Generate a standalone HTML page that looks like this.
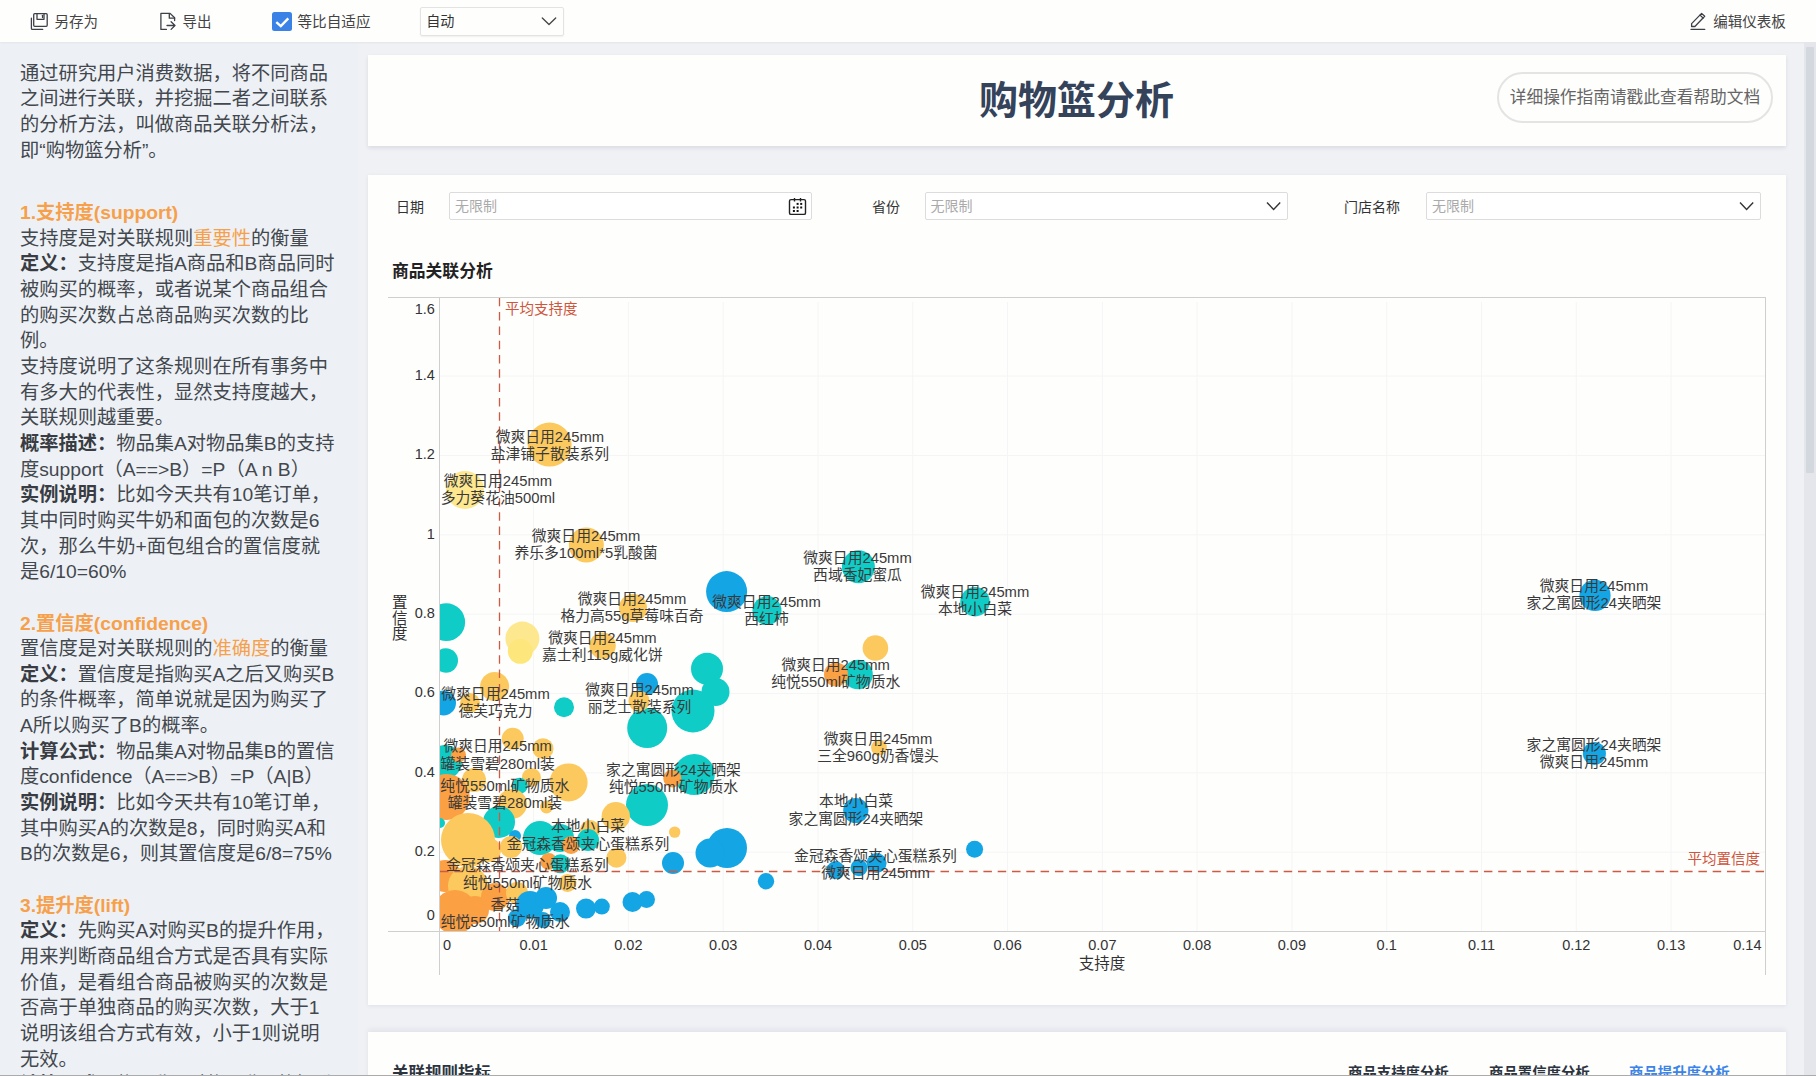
<!DOCTYPE html>
<html lang="zh-CN">
<head>
<meta charset="utf-8">
<title>购物篮分析</title>
<style>
*{box-sizing:border-box;margin:0;padding:0}
html,body{width:1816px;height:1076px;overflow:hidden}
body{background:#f0f1f5;font-family:"Liberation Sans","Noto Sans CJK SC",sans-serif;color:#333;position:relative}
.abs{position:absolute}
#toolbar{left:0;top:0;width:1816px;height:42px;background:#fefefd;box-shadow:0 1px 2px rgba(0,0,0,0.05)}
#leftbg{left:0;top:42px;width:358px;height:1034px;background:#edf1f5}
.tb{position:absolute;top:12px;font-size:14px;line-height:18px;color:#444;white-space:nowrap}
.tb svg{position:absolute}
#left{left:20px;top:0;width:330px;font-size:19.25px;line-height:25.66px;color:#43474e;white-space:nowrap}
#left .blk{position:absolute;left:0}
#left b{font-weight:bold;color:#393c42}
#left .h{color:#f7a04b;font-weight:bold}
#left .o{color:#f7a04b}
.card{position:absolute;background:#fefefd;left:367.5px;width:1418.5px;box-shadow:0 1px 4px rgba(40,40,70,0.08)}
#titlecard{top:55px;height:91px;box-shadow:0 2px 4px rgba(30,30,60,0.10)}
#title{position:absolute;left:0;width:100%;top:75.6px;text-align:center;font-size:39px;font-weight:bold;color:#34425a;line-height:50px}
#help{position:absolute;left:1497px;top:72px;width:276px;height:51px;border:2px solid #e4e4e4;border-radius:26px;font-size:16.7px;color:#666;line-height:47px;padding-left:10.8px;letter-spacing:0px;white-space:nowrap}
#chartcard{top:175px;height:830px}
.flabel{position:absolute;top:198px;font-size:14px;line-height:18px;color:#333}
.finput{position:absolute;top:192px;height:28px;border:1px solid #dcdcdc;border-radius:2px;background:#fff;font-size:14px;color:#aaa;line-height:26px;padding-left:5px}
#charttitle{position:absolute;left:392px;top:261.5px;font-size:16.8px;font-weight:bold;color:#222;line-height:20px}
#bottomcard{top:1032px;height:60px;box-shadow:0 -3px 5px rgba(30,30,60,0.06)}
#scroll{position:absolute;left:1804px;top:42px;width:12px;height:1034px;background:#e4e6ec}
#thumb{position:absolute;left:1805.5px;top:47px;width:8px;height:426px;background:#d3d7de;border-radius:1px}
#bline{position:absolute;left:0;top:1074.6px;width:1816px;height:1.4px;background:#ababab}
</style>
</head>
<body>
<div id="leftbg" class="abs"></div>
<div id="toolbar" class="abs"></div>
<svg class="abs" style="left:0;top:0" width="1816" height="42" viewBox="0 0 1816 42">
<g fill="none" stroke="#3d4047" stroke-width="1.3" stroke-linejoin="round" stroke-linecap="round">
<rect x="33.7" y="13.7" width="13.5" height="12.6" rx="1"/>
<path d="M37 13.9V19.3H44V13.9"/>
<path d="M42.5 15.3V17.6" stroke-width="1.2"/>
<path d="M31.4 18.2V28.4Q31.4 29.4 32.4 29.4H42.7"/>
<path d="M166.4 29.4H160.9V13.4H170.1L174.6 17.8V20.6"/>
<path d="M169.3 13.7V18.2H174.6"/>
<path d="M167 25.5H175M171.1 21.7L175 25.5L171.1 29.4"/>
<path d="M1691.6 26.5V23.6L1701.6 13.4L1704.7 16.3L1694.9 26.5Z"/>
<path d="M1700 15.1L1703.1 18"/>
<path d="M1691.1 29.4H1704.7" stroke-width="1.4"/>
<path d="M542.3 18L549 24.5L555.7 18" stroke="#444" stroke-width="1.3"/>
</g>
<rect x="272" y="12" width="20" height="19" rx="2.5" fill="#3a82e6"/>
<path d="M276.3 22.1L280.8 26.1L288.3 18.4" fill="none" stroke="#fff" stroke-width="2.4"/>
</svg>
<div class="abs" style="left:419.5px;top:6.5px;width:144px;height:29px;border:1px solid #e3e3e3;border-radius:2px;box-shadow:0 1px 2px rgba(0,0,0,0.06)"></div>
<div class="tb" style="left:426.2px;top:12.3px;color:#333;font-size:14.1px">自动</div>
<div class="tb" style="left:54.5px;top:12.5px;font-size:14.5px">另存为</div>
<div class="tb" style="left:182.5px;top:12.5px;font-size:14.5px">导出</div>
<div class="tb" style="left:297.5px;top:12.5px;font-size:14.6px">等比自适应</div>
<div class="tb" style="left:1713.2px;top:12.5px;font-size:14.5px">编辑仪表板</div>

<div id="left" class="abs">
<div class="blk" style="top:60.8px">通过研究用户消费数据，将不同商品<br>之间进行关联，并挖掘二者之间联系<br>的分析方法，叫做商品关联分析法，<br>即“购物篮分析”。</div>
<div class="blk" style="top:200px"><span class="h">1.支持度(support)</span><br>支持度是对关联规则<span class="o">重要性</span>的衡量<br><b>定义：</b>支持度是指A商品和B商品同时<br>被购买的概率，或者说某个商品组合<br>的购买次数占总商品购买次数的比<br>例。<br>支持度说明了这条规则在所有事务中<br>有多大的代表性，显然支持度越大，<br>关联规则越重要。<br><b>概率描述：</b>物品集A对物品集B的支持<br>度support（A==&gt;B）=P（A n B）<br><b>实例说明：</b>比如今天共有10笔订单，<br>其中同时购买牛奶和面包的次数是6<br>次，那么牛奶+面包组合的置信度就<br>是6/10=60%<br><br><span class="h">2.置信度(confidence)</span><br>置信度是对关联规则的<span class="o">准确度</span>的衡量<br><b>定义：</b>置信度是指购买A之后又购买B<br>的条件概率，简单说就是因为购买了<br>A所以购买了B的概率。<br><b>计算公式：</b>物品集A对物品集B的置信<br>度confidence（A==&gt;B）=P（A|B）<br><b>实例说明：</b>比如今天共有10笔订单，<br>其中购买A的次数是8，同时购买A和<br>B的次数是6，则其置信度是6/8=75%<br><br><span class="h">3.提升度(lift)</span><br><b>定义：</b>先购买A对购买B的提升作用，<br>用来判断商品组合方式是否具有实际<br>价值，是看组合商品被购买的次数是<br>否高于单独商品的购买次数，大于1<br>说明该组合方式有效，小于1则说明<br>无效。<br><b>计算公式：</b>物品集A对物品集B的提升</div>
</div>

<div id="titlecard" class="card"></div>
<div id="title" style="left:367px;width:1419px">购物篮分析</div>
<div id="help">详细操作指南请戳此查看帮助文档</div>

<div id="chartcard" class="card"></div>
<div class="flabel" style="left:396px">日期</div>
<div class="finput" style="left:449px;width:363px">无限制</div>
<div class="flabel" style="left:872px">省份</div>
<div class="finput" style="left:924.5px;width:363.5px">无限制</div>
<div class="flabel" style="left:1344px">门店名称</div>
<div class="finput" style="left:1426px;width:335px">无限制</div>
<svg class="abs" style="left:0;top:190px" width="1816" height="34" viewBox="0 190 1816 34">
<g fill="none" stroke="#222" stroke-width="1.4">
<rect x="789.5" y="199.6" width="16" height="14.8" rx="1.5"/>
<path d="M794.5 198V201.6M800.5 198V201.6"/>
</g>
<g fill="#111">
<rect x="796.6" y="202.9" width="2" height="2"/><rect x="800.2" y="202.9" width="2" height="2"/>
<rect x="792.9" y="206.5" width="2" height="2"/><rect x="796.6" y="206.5" width="2" height="2"/><rect x="800.2" y="206.5" width="2" height="2"/>
<rect x="792.9" y="210" width="2" height="2"/><rect x="796.6" y="210" width="2" height="2"/>
</g>
<g fill="none" stroke="#333" stroke-width="1.4">
<path d="M1267 202.6L1273.6 209.4L1280.2 202.6"/>
<path d="M1740 202.6L1746.6 209.4L1753.2 202.6"/>
</g>
</svg>
<div id="charttitle">商品关联分析</div>

<!--CHART-->
<svg class="abs" style="left:0;top:0" width="1816" height="1076" viewBox="0 0 1816 1076" font-family="Liberation Sans, Noto Sans CJK SC, sans-serif">
<defs><clipPath id="pc"><rect x="440" y="297.5" width="1325" height="633.5"/></clipPath></defs>
<path d="M533.59 302V931M628.39 302V931M723.18 302V931M817.97 302V931M912.76 302V931M1007.56 302V931M1102.35 302V931M1197.14 302V931M1291.94 302V931M1386.73 302V931M1481.52 302V931M1576.31 302V931M1671.11 302V931M440 852.16H1765M440 772.83H1765M440 693.49H1765M440 614.15H1765M440 534.81H1765M440 455.47H1765M440 376.14H1765" stroke="#f5f5f5" stroke-width="1" fill="none"/>
<g clip-path="url(#pc)">
<circle cx="549.6" cy="444.6" r="22.0" fill="#fcc95e"/>
<circle cx="465.0" cy="490.0" r="19.0" fill="#fde890"/>
<circle cx="586.3" cy="545.0" r="17.5" fill="#fcc95e"/>
<circle cx="633.0" cy="608.0" r="14.0" fill="#fcc95e"/>
<circle cx="726.6" cy="591.6" r="20.5" fill="#13a5e4"/>
<circle cx="767.0" cy="610.6" r="14.5" fill="#0fccc6"/>
<circle cx="858.4" cy="566.8" r="16.5" fill="#0fccc6"/>
<circle cx="975.0" cy="601.7" r="14.7" fill="#0fccc6"/>
<circle cx="875.4" cy="648.0" r="12.8" fill="#fcc95e"/>
<circle cx="858.0" cy="674.5" r="14.8" fill="#0fccc6"/>
<circle cx="836.0" cy="674.5" r="12.0" fill="#fba043"/>
<circle cx="707.0" cy="668.8" r="16.0" fill="#0fccc6"/>
<circle cx="715.5" cy="692.0" r="14.0" fill="#0fccc6"/>
<circle cx="693.0" cy="711.0" r="21.5" fill="#0fccc6"/>
<circle cx="647.2" cy="728.0" r="20.0" fill="#0fccc6"/>
<circle cx="647.0" cy="684.0" r="11.0" fill="#13a5e4"/>
<circle cx="639.0" cy="701.0" r="10.5" fill="#fcc95e"/>
<circle cx="564.0" cy="707.3" r="10.0" fill="#0fccc6"/>
<circle cx="446.2" cy="622.2" r="18.9" fill="#0fccc6"/>
<circle cx="445.8" cy="660.5" r="12.2" fill="#0fccc6"/>
<circle cx="522.4" cy="638.6" r="17.0" fill="#fde890"/>
<circle cx="520.3" cy="651.3" r="12.5" fill="#fde77c"/>
<circle cx="602.6" cy="645.7" r="13.2" fill="#fcc95e"/>
<circle cx="494.6" cy="686.5" r="14.5" fill="#fcc95e"/>
<circle cx="470.0" cy="703.0" r="10.0" fill="#fcc95e"/>
<circle cx="443.5" cy="703.0" r="12.5" fill="#13a5e4"/>
<circle cx="512.7" cy="738.8" r="11.0" fill="#fcc95e"/>
<circle cx="543.0" cy="748.7" r="10.5" fill="#fcc95e"/>
<circle cx="445.0" cy="762.0" r="17.0" fill="#0fccc6"/>
<circle cx="458.5" cy="755.0" r="7.5" fill="#fba043"/>
<circle cx="568.6" cy="782.4" r="19.0" fill="#fcc95e"/>
<circle cx="531.4" cy="777.4" r="9.5" fill="#fcc95e"/>
<circle cx="546.5" cy="807.0" r="6.5" fill="#fcc95e"/>
<circle cx="519.7" cy="785.8" r="8.0" fill="#0fccc6"/>
<circle cx="474.0" cy="780.0" r="12.0" fill="#fcc95e"/>
<circle cx="446.7" cy="797.0" r="23.0" fill="#fba043"/>
<circle cx="512.0" cy="804.0" r="15.0" fill="#fcc95e"/>
<circle cx="499.0" cy="822.0" r="16.0" fill="#0fccc6"/>
<circle cx="694.3" cy="774.5" r="20.5" fill="#0fccc6"/>
<circle cx="672.3" cy="778.4" r="9.0" fill="#fba043"/>
<circle cx="647.0" cy="805.0" r="21.0" fill="#0fccc6"/>
<circle cx="615.8" cy="816.2" r="14.2" fill="#fcc95e"/>
<circle cx="674.7" cy="832.1" r="5.7" fill="#fcc95e"/>
<circle cx="727.0" cy="848.0" r="20.0" fill="#13a5e4"/>
<circle cx="710.0" cy="853.0" r="14.5" fill="#13a5e4"/>
<circle cx="673.0" cy="863.0" r="11.0" fill="#13a5e4"/>
<circle cx="766.0" cy="881.3" r="8.2" fill="#13a5e4"/>
<circle cx="632.5" cy="902.0" r="10.0" fill="#13a5e4"/>
<circle cx="646.5" cy="899.5" r="8.5" fill="#13a5e4"/>
<circle cx="586.0" cy="908.6" r="10.0" fill="#13a5e4"/>
<circle cx="601.8" cy="906.6" r="8.0" fill="#13a5e4"/>
<circle cx="616.4" cy="857.7" r="10.0" fill="#fcc95e"/>
<circle cx="468.0" cy="840.0" r="27.0" fill="#fcc95e"/>
<circle cx="489.0" cy="850.0" r="12.0" fill="#fcc95e"/>
<circle cx="440.0" cy="823.0" r="5.0" fill="#0fccc6"/>
<circle cx="540.0" cy="838.0" r="17.0" fill="#0fccc6"/>
<circle cx="560.0" cy="838.0" r="14.0" fill="#0fccc6"/>
<circle cx="515.0" cy="836.0" r="6.0" fill="#13a5e4"/>
<circle cx="511.0" cy="847.0" r="11.0" fill="#fcc95e"/>
<circle cx="571.0" cy="845.0" r="9.0" fill="#fba043"/>
<circle cx="590.0" cy="830.0" r="10.0" fill="#fcc95e"/>
<circle cx="588.0" cy="840.0" r="11.0" fill="#0fccc6"/>
<circle cx="548.7" cy="861.6" r="8.5" fill="#fba043"/>
<circle cx="560.5" cy="863.8" r="9.5" fill="#0fccc6"/>
<circle cx="567.5" cy="883.0" r="9.0" fill="#fcc95e"/>
<circle cx="445.0" cy="876.0" r="16.0" fill="#fba043"/>
<circle cx="468.0" cy="886.0" r="20.0" fill="#fcc95e"/>
<circle cx="455.0" cy="912.0" r="22.0" fill="#fba043"/>
<circle cx="475.0" cy="910.0" r="14.0" fill="#fba043"/>
<circle cx="495.0" cy="897.0" r="14.0" fill="#fba043"/>
<circle cx="517.0" cy="893.0" r="11.0" fill="#fcc95e"/>
<circle cx="530.0" cy="905.0" r="14.0" fill="#13a5e4"/>
<circle cx="546.0" cy="898.0" r="11.0" fill="#13a5e4"/>
<circle cx="560.0" cy="912.0" r="10.0" fill="#13a5e4"/>
<circle cx="517.0" cy="918.0" r="9.0" fill="#13a5e4"/>
<circle cx="543.0" cy="920.0" r="8.0" fill="#13a5e4"/>
<circle cx="1595.0" cy="595.4" r="15.6" fill="#13a5e4"/>
<circle cx="1594.4" cy="753.5" r="11.5" fill="#13a5e4"/>
<circle cx="855.8" cy="810.5" r="12.6" fill="#13a5e4"/>
<circle cx="974.6" cy="849.2" r="8.5" fill="#13a5e4"/>
<circle cx="835.6" cy="870.1" r="9.0" fill="#13a5e4"/>
<circle cx="859.0" cy="867.7" r="8.5" fill="#13a5e4"/>
<circle cx="876.6" cy="863.0" r="10.0" fill="#13a5e4"/>
<circle cx="879.0" cy="747.6" r="7.9" fill="#fcc95e"/>
</g>
<path d="M499.5 297.8V931.5" stroke="#cf5a44" stroke-width="1.3" stroke-dasharray="8.5 5.8" fill="none"/>
<path d="M440 871.5H1765" stroke="#cf5a44" stroke-width="1.3" stroke-dasharray="8.5 5.8" fill="none"/>
<path d="M388 297.5H1765.5M388 931.5H1765.5M439.5 297V975M1765.5 297V975" stroke="#cfcfcf" stroke-width="1" fill="none"/>
<g font-size="14.8" fill="#3a3a3a" text-anchor="middle">
<text x="549.9" y="441.5">微爽日用245mm</text>
<text x="549.9" y="458.7">盐津铺子散装系列</text>
<text x="497.9" y="486.2">微爽日用245mm</text>
<text x="497.9" y="503.4">多力葵花油500ml</text>
<text x="586.0" y="541.2">微爽日用245mm</text>
<text x="586.0" y="558.4">养乐多100ml*5乳酸菌</text>
<text x="857.5" y="563.2">微爽日用245mm</text>
<text x="857.5" y="580.4">西域香妃蜜瓜</text>
<text x="975.0" y="597.2">微爽日用245mm</text>
<text x="975.0" y="614.4">本地小白菜</text>
<text x="1594.0" y="591.2">微爽日用245mm</text>
<text x="1594.0" y="608.4">家之寓圆形24夹晒架</text>
<text x="632.0" y="603.9">微爽日用245mm</text>
<text x="632.0" y="621.1">格力高55g草莓味百奇</text>
<text x="766.5" y="606.7">微爽日用245mm</text>
<text x="766.5" y="623.9">西红柿</text>
<text x="602.4" y="642.7">微爽日用245mm</text>
<text x="602.4" y="659.9">嘉士利115g威化饼</text>
<text x="835.7" y="669.8">微爽日用245mm</text>
<text x="835.7" y="687.0">纯悦550ml矿物质水</text>
<text x="495.5" y="698.6">微爽日用245mm</text>
<text x="495.5" y="715.8">德芙巧克力</text>
<text x="639.5" y="695.2">微爽日用245mm</text>
<text x="639.5" y="712.4">丽芝士散装系列</text>
<text x="878.0" y="743.8">微爽日用245mm</text>
<text x="878.0" y="761.0">三全960g奶香馒头</text>
<text x="1594.0" y="749.9">家之寓圆形24夹晒架</text>
<text x="1594.0" y="767.1">微爽日用245mm</text>
<text x="497.7" y="751.4">微爽日用245mm</text>
<text x="497.7" y="768.6">罐装雪碧280ml装</text>
<text x="673.5" y="774.8">家之寓圆形24夹晒架</text>
<text x="673.5" y="792.0">纯悦550ml矿物质水</text>
<text x="504.9" y="791.0">纯悦550ml矿物质水</text>
<text x="504.9" y="808.2">罐装雪碧280ml装</text>
<text x="856.0" y="806.4">本地小白菜</text>
<text x="856.0" y="823.6">家之寓圆形24夹晒架</text>
<text x="588.0" y="831.4">本地小白菜</text>
<text x="588.0" y="848.6">金冠森香颂夹心蛋糕系列</text>
<text x="527.5" y="870.4">金冠森香颂夹心蛋糕系列</text>
<text x="527.5" y="887.6">纯悦550ml矿物质水</text>
<text x="875.5" y="861.0">金冠森香颂夹心蛋糕系列</text>
<text x="875.5" y="878.2">微爽日用245mm</text>
<text x="505.3" y="909.9">香菇</text>
<text x="505.3" y="927.1">纯悦550ml矿物质水</text>
</g>
<text x="505" y="313.5" font-size="14.5" fill="#d0553c">平均支持度</text>
<text x="1760" y="864" font-size="14.5" fill="#d0553c" text-anchor="end">平均置信度</text>
<g font-size="14.5" fill="#333" text-anchor="end"><text x="434.8" y="920.4">0</text><text x="434.8" y="856.0">0.2</text><text x="434.8" y="776.6">0.4</text><text x="434.8" y="697.3">0.6</text><text x="434.8" y="617.9">0.8</text><text x="434.8" y="538.6">1</text><text x="434.8" y="459.3">1.2</text><text x="434.8" y="379.9">1.4</text><text x="434.8" y="313.5">1.6</text></g>
<g font-size="14.5" fill="#333" text-anchor="middle"><text x="443" y="949.5" text-anchor="start">0</text><text x="533.6" y="949.5">0.01</text><text x="628.4" y="949.5">0.02</text><text x="723.2" y="949.5">0.03</text><text x="818.0" y="949.5">0.04</text><text x="912.8" y="949.5">0.05</text><text x="1007.6" y="949.5">0.06</text><text x="1102.4" y="949.5">0.07</text><text x="1197.1" y="949.5">0.08</text><text x="1291.9" y="949.5">0.09</text><text x="1386.7" y="949.5">0.1</text><text x="1481.5" y="949.5">0.11</text><text x="1576.3" y="949.5">0.12</text><text x="1671.1" y="949.5">0.13</text><text x="1761.5" y="949.5" text-anchor="end">0.14</text></g>
<text x="1102" y="969" font-size="15.5" fill="#333" text-anchor="middle">支持度</text>
<g font-size="15.5" fill="#333" text-anchor="middle"><text x="399.8" y="608">置</text><text x="399.8" y="623.5">信</text><text x="399.8" y="639">度</text></g>
</svg>
<!--/CHART-->
<div id="bottomcard" class="card"></div>

<div class="abs" style="left:392px;top:1063px;font-size:16.5px;font-weight:bold;color:#2c3440;line-height:20px;white-space:nowrap">关联规则指标</div>
<div class="abs" style="left:1348px;top:1064px;font-size:14.4px;font-weight:bold;color:#2c3440;line-height:18px;white-space:nowrap">商品支持度分析</div>
<div class="abs" style="left:1489px;top:1064px;font-size:14.4px;font-weight:bold;color:#2c3440;line-height:18px;white-space:nowrap">商品置信度分析</div>
<div class="abs" style="left:1629px;top:1064px;font-size:14.4px;font-weight:bold;color:#3b84e8;line-height:18px;white-space:nowrap">商品提升度分析</div>
<div id="scroll"></div>
<div id="thumb"></div>
<div id="bline"></div>
</body>
</html>
